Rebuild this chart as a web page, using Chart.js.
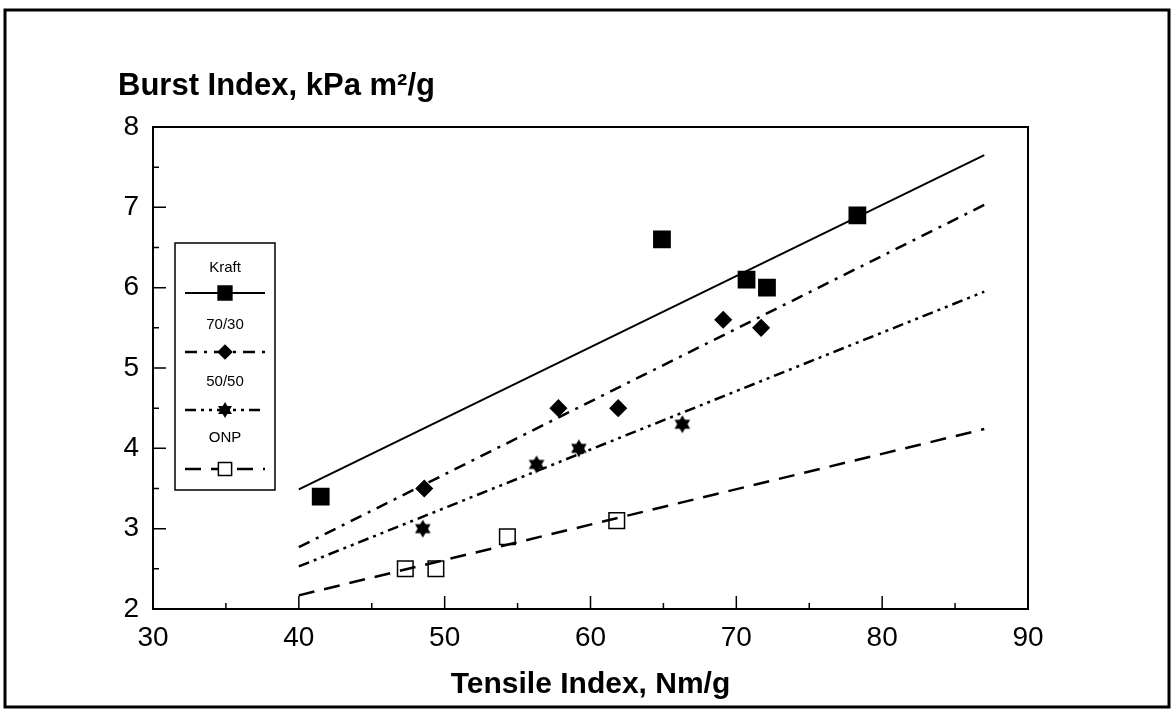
<!DOCTYPE html>
<html>
<head>
<meta charset="utf-8">
<script src="https://cdn.jsdelivr.net/npm/chart.js"></script>
<style>
  html, body { margin: 0; padding: 0; background: #fff; }
</style>
</head>
<body>
<canvas id="burstChart" width="1174" height="711"></canvas>
<script>
// measured points (Tensile Index, Burst Index)
var kraftX = [41.5, 64.9, 70.7, 72.1, 78.3];
var kraftY = [3.4, 6.6, 6.1, 6.0, 6.9];
var mix7030X = [48.6, 57.8, 61.9, 69.1, 71.7];
var mix7030Y = [3.5, 4.5, 4.5, 5.6, 5.5];
var mix5050X = [48.5, 56.3, 59.2, 66.3];
var mix5050Y = [3.0, 3.8, 4.0, 4.3];
var onpX = [47.3, 49.4, 54.3, 61.8];
var onpY = [2.5, 2.5, 2.9, 3.1];

// regression lines, read at both ends
var fitX = [40, 87];
var kraftFit = [3.49, 7.65];
var mix7030Fit = [2.77, 7.03];
var mix5050Fit = [2.53, 5.95];
var onpFit = [2.17, 4.24];

var seriesNames = ['Kraft', '70/30', '50/50', 'ONP'];

function pts(xs, ys) {
    return xs.map(function(x, i) { return { x: x, y: ys[i] }; });
}

// six pointed star marker
function makeStar(r) {
    var c = document.createElement('canvas');
    c.width = c.height = r * 2 + 2;
    var g = c.getContext('2d');
    var cx = r + 1, cy = r + 1;
    g.fillStyle = '#000';
    for (var t = 0; t < 2; t++) {
        g.beginPath();
        for (var k = 0; k < 3; k++) {
            var a = -Math.PI / 2 + t * Math.PI + k * 2 * Math.PI / 3;
            var px = cx + r * Math.cos(a), py = cy + r * Math.sin(a);
            if (k === 0) g.moveTo(px, py); else g.lineTo(px, py);
        }
        g.closePath();
        g.fill();
    }
    return c;
}
var starImg = makeStar(9);
var starSmall = makeStar(8);

var styles = [
    { dash: [], width: 2, point: 'rect', radius: 11.5, fill: '#000' },
    { dash: [12, 7, 3, 7], width: 2.5, point: 'rectRot', radius: 8, fill: '#000' },
    { dash: [11, 5, 3, 5, 3, 5], width: 2.5, point: starImg, radius: 9, fill: '#000' },
    { dash: [16, 10], width: 2.5, point: 'rect', radius: 11, fill: '#fff' }
];

var pointSets = [pts(kraftX, kraftY), pts(mix7030X, mix7030Y), pts(mix5050X, mix5050Y), pts(onpX, onpY)];
var fitSets = [pts(fitX, kraftFit), pts(fitX, mix7030Fit), pts(fitX, mix5050Fit), pts(fitX, onpFit)];

var datasets = [];
seriesNames.forEach(function(name, i) {
    var s = styles[i];
    datasets.push({
        label: name + ' fit',
        data: fitSets[i],
        showLine: true,
        borderColor: '#000',
        borderWidth: s.width,
        borderDash: s.dash,
        pointRadius: 0,
        fill: false
    });
    datasets.push({
        label: name,
        data: pointSets[i],
        showLine: false,
        pointStyle: s.point,
        pointRadius: s.radius,
        pointBackgroundColor: s.fill,
        pointBorderColor: '#000',
        pointBorderWidth: 1.5
    });
});

var FONT = '"Liberation Sans", Arial, sans-serif';

// frame, inward ticks, y title and the stacked legend box
var decorPlugin = {
    id: 'decor',
    afterDraw: function(chart) {
        var ctx = chart.ctx, a = chart.chartArea;
        var sx = chart.scales.x, sy = chart.scales.y;
        ctx.save();
        ctx.strokeStyle = '#000';
        ctx.setLineDash([]);

        ctx.lineWidth = 3;
        ctx.strokeRect(5, 10, 1164, 697);

        ctx.lineWidth = 2;
        ctx.strokeRect(a.left, a.top, a.right - a.left, a.bottom - a.top);

        ctx.lineWidth = 1.5;
        ctx.beginPath();
        for (var v = sx.min; v <= sx.max; v += 5) {
            var len = (v % 10 === 0) ? 13 : 6;
            var px = sx.getPixelForValue(v);
            ctx.moveTo(px, a.bottom);
            ctx.lineTo(px, a.bottom - len);
        }
        for (var w = sy.min; w <= sy.max; w += 0.5) {
            var l2 = (w % 1 === 0) ? 13 : 6;
            var py = sy.getPixelForValue(w);
            ctx.moveTo(a.left, py);
            ctx.lineTo(a.left + l2, py);
        }
        ctx.stroke();

        ctx.fillStyle = '#000';
        ctx.font = 'bold 31px ' + FONT;
        ctx.textAlign = 'left';
        ctx.textBaseline = 'middle';
        ctx.fillText('Burst Index, kPa m\u00b2/g', 118, 86);

        // legend
        var lx = 175, ly = 243, lw = 100, lh = 247;
        ctx.fillStyle = '#fff';
        ctx.fillRect(lx, ly, lw, lh);
        ctx.lineWidth = 1.5;
        ctx.strokeRect(lx, ly, lw, lh);
        var labelY = [268, 325, 382, 438];
        var lineY = [293, 352, 410, 469];
        ctx.font = '15px ' + FONT;
        ctx.textAlign = 'center';
        seriesNames.forEach(function(name, i) {
            var s = styles[i];
            ctx.fillStyle = '#000';
            ctx.fillText(name, lx + lw / 2, labelY[i]);
            ctx.lineWidth = s.width;
            ctx.setLineDash(s.dash);
            ctx.beginPath();
            ctx.moveTo(lx + 10, lineY[i]);
            ctx.lineTo(lx + lw - 10, lineY[i]);
            ctx.stroke();
            ctx.setLineDash([]);
            ctx.fillStyle = s.fill;
            ctx.lineWidth = 1.5;
            Chart.helpers.drawPoint(ctx, {
                pointStyle: i === 2 ? starSmall : s.point,
                radius: s.radius * 0.85, borderWidth: 1.5, rotation: 0
            }, lx + lw / 2, lineY[i]);
        });
        ctx.restore();
    }
};

var ctx = document.getElementById('burstChart').getContext('2d');
var burstChart = new Chart(ctx, {
    type: 'scatter',
    data: { datasets: datasets },
    options: {
        responsive: false,
        animation: false,
        layout: { padding: { left: 0, top: 127, right: 146, bottom: 0 } },
        plugins: {
            legend: { display: false },
            tooltip: { enabled: false },
            title: { display: false }
        },
        scales: {
            x: {
                type: 'linear',
                min: 30, max: 90,
                grid: { display: false, drawTicks: false },
                border: { display: false },
                ticks: {
                    stepSize: 10, padding: 12, color: '#000',
                    font: { family: FONT, size: 28 }
                },
                title: {
                    display: true,
                    text: 'Tensile Index, Nm/g',
                    color: '#000',
                    font: { family: FONT, size: 30, weight: 'bold' },
                    padding: { top: 4, bottom: 8 }
                },
                afterFit: function(s) { s.height = 102; }
            },
            y: {
                type: 'linear',
                min: 2, max: 8,
                grid: { display: false, drawTicks: false },
                border: { display: false },
                ticks: {
                    stepSize: 1, padding: 14, color: '#000',
                    font: { family: FONT, size: 28 }
                },
                afterFit: function(s) { s.width = 153; }
            }
        }
    },
    plugins: [decorPlugin]
});
</script>
</body>
</html>
